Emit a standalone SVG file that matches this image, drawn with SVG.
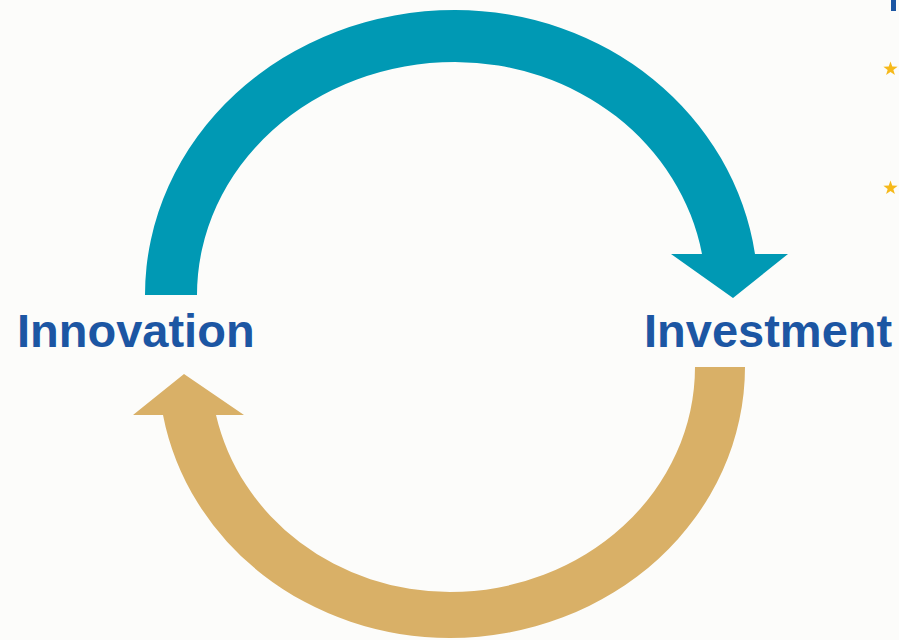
<svg xmlns="http://www.w3.org/2000/svg" xmlns:xlink="http://www.w3.org/1999/xlink" width="899" height="640" viewBox="0 0 899 640">
  <style>
    .label { font-family: "Liberation Sans", Arial, sans-serif; font-weight: bold; font-size: 47px; fill: #1C56A3; }
    .teal { fill: #0099B4; }
    .gold { fill: #D9B067; }
    .star { fill: #F6B91A; }
  </style>
  <defs>
    <!-- five-point bullet star, outer radius 7.5 -->
    <polygon id="star" points="0,-7.5 1.76,-2.43 7.13,-2.32 2.85,0.93 4.41,6.07 0,3 -4.41,6.07 -2.85,0.93 -7.13,-2.32 -1.76,-2.43"/>
  </defs>
  <rect x="0" y="0" width="899" height="640" fill="#FCFCFA"/>

  <!-- edge of a heading bar and bullet stars at the right margin -->
  <rect x="891" y="0" width="5" height="11" fill="#1C56A3"/>
  <use xlink:href="#star" href="#star" class="star" x="890.5" y="69"/>
  <use xlink:href="#star" href="#star" class="star" x="890.5" y="188"/>

  <g id="connectors">
    <!-- upper arc: Innovation to Investment -->
    <path id="arc-top" class="teal" d="M145,295 A310,285 0 0 1 455,10 A303,285 0 0 1 755,254 L788,254 L733,298 L671,254 L702,254 A251,233 0 0 0 455,62 A258,233 0 0 0 197,295 Z"/>
    <!-- lower arc: Investment back to Innovation -->
    <path id="arc-bottom" class="gold" d="M745,367 A295,271 0 0 1 450,638 A291.6,271 0 0 1 163,415 L133,415 L184,374 L244,415 L216,415 A239.5,225 0 0 0 450,592 A245,225 0 0 0 695,367 Z"/>
  </g>

  <g id="node-innovation">
    <text class="label" x="17" y="347">Innovation</text>
  </g>
  <g id="node-investment">
    <text class="label" x="644" y="347">Investment</text>
  </g>
</svg>
